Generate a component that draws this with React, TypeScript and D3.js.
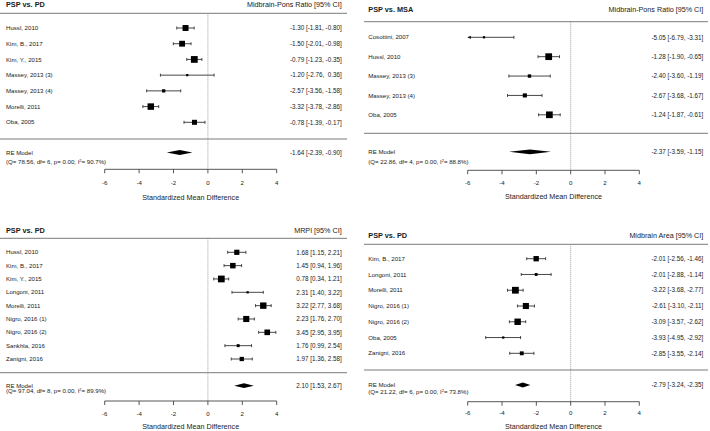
import React from "react";
import * as d3 from "d3";

// ---------- data ----------
const axisTicks = [-6, -4, -2, 0, 2, 4];
const axisTitle = "Standardized Mean Difference";
const summaryLabel = "RE Model";

// Panel A: PSP vs PD, Midbrain-Pons Ratio
const aGroup = "PSP vs. PD";
const aMeasure = "Midbrain-Pons Ratio [95% CI]";
const aStudies = ["Hussl, 2010", "Kim, B., 2017", "Kim, Y., 2015", "Massey, 2013 (3)", "Massey, 2013 (4)", "Morelli, 2011", "Oba, 2005"];
const aEst = [-1.3, -1.5, -0.79, -1.2, -2.57, -3.32, -0.78];
const aLower = [-1.81, -2.01, -1.23, -2.76, -3.56, -3.78, -1.39];
const aUpper = [-0.8, -0.98, -0.35, 0.36, -1.58, -2.86, -0.17];
const aSummary = [-1.64, -2.39, -0.9];
const aHet = [78.56, 6, 0.0, 90.7];

// Panel B: PSP vs MSA, Midbrain-Pons Ratio
const bGroup = "PSP vs. MSA";
const bMeasure = "Midbrain-Pons Ratio [95% CI]";
const bStudies = ["Cosottini, 2007", "Hussl, 2010", "Massey, 2013 (3)", "Massey, 2013 (4)", "Oba, 2005"];
const bEst = [-5.05, -1.28, -2.4, -2.67, -1.24];
const bLower = [-6.79, -1.9, -3.6, -3.68, -1.87];
const bUpper = [-3.31, -0.65, -1.19, -1.67, -0.61];
const bSummary = [-2.37, -3.59, -1.15];
const bHet = [22.86, 4, 0.0, 88.8];

// Panel C: PSP vs PD, MRPI
const cGroup = "PSP vs. PD";
const cMeasure = "MRPI [95% CI]";
const cStudies = ["Hussl, 2010", "Kim, B., 2017", "Kim, Y., 2015", "Longoni, 2011", "Morelli, 2011", "Nigro, 2016 (1)", "Nigro, 2016 (2)", "Sankhla, 2016", "Zanigni, 2016"];
const cEst = [1.68, 1.45, 0.78, 2.31, 3.22, 2.23, 3.45, 1.76, 1.97];
const cLower = [1.15, 0.94, 0.34, 1.4, 2.77, 1.76, 2.95, 0.99, 1.36];
const cUpper = [2.21, 1.96, 1.21, 3.22, 3.68, 2.7, 3.95, 2.54, 2.58];
const cSummary = [2.1, 1.53, 2.67];
const cHet = [97.04, 8, 0.0, 89.9];

// Panel D: PSP vs PD, Midbrain Area
const dGroup = "PSP vs. PD";
const dMeasure = "Midbrain Area [95% CI]";
const dStudies = ["Kim, B., 2017", "Longoni, 2011", "Morelli, 2011", "Nigro, 2016 (1)", "Nigro, 2016 (2)", "Oba, 2005", "Zanigni, 2016"];
const dEst = [-2.01, -2.01, -3.22, -2.61, -3.09, -3.93, -2.85];
const dLower = [-2.56, -2.88, -3.68, -3.1, -3.57, -4.95, -3.55];
const dUpper = [-1.46, -1.14, -2.77, -2.11, -2.62, -2.92, -2.14];
const dSummary = [-2.79, -3.24, -2.35];
const dHet = [21.22, 6, 0.0, 73.8];

// ---------- layout ----------
const FONT = "'Liberation Sans', Arial, Helvetica, sans-serif";
const TEXT = "#1a1a1a";
const BASE = 4.5;

const layoutLeft = { labelX: 6, lineX0: 0, lineX1: 347, textRight: 341.7, x0: 104.7, x1: 276.7 };
const layoutRight = { labelX: 368.3, lineX0: 364, lineX1: 708, textRight: 703.3, x0: 467.7, x1: 639.3 };

const layoutA = { ...layoutLeft, headerY: 4.9, headerLineY: 13.3, rowTop: 28, rowBottom: 122.3, lowerLineY: 139, reY: 152.5, qY: 161.7, axisY: 169.3, tickLabelY: 182.7, titleY: 197.3 };
const layoutB = { ...layoutRight, headerY: 9.3, headerLineY: 21.7, rowTop: 37.3, rowBottom: 114.8, lowerLineY: 133.3, reY: 151.8, qY: 161.7, axisY: 170.3, tickLabelY: 182.7, titleY: 196.7 };
const layoutC = { ...layoutLeft, headerY: 230.7, headerLineY: 238.3, rowTop: 252.3, rowBottom: 359, lowerLineY: 372.7, reY: 385.7, qY: 391.3, axisY: 401, tickLabelY: 414.3, titleY: 426.6 };
const layoutD = { ...layoutRight, headerY: 235, headerLineY: 244.3, rowTop: 258.7, rowBottom: 353.3, lowerLineY: 370, reY: 385, qY: 391.8, axisY: 401.7, tickLabelY: 413.3, titleY: 426.6 };

const panels = [
  { group: aGroup, measure: aMeasure, studies: aStudies, est: aEst, lower: aLower, upper: aUpper, summary: aSummary, het: aHet, L: layoutA },
  { group: bGroup, measure: bMeasure, studies: bStudies, est: bEst, lower: bLower, upper: bUpper, summary: bSummary, het: bHet, L: layoutB },
  { group: cGroup, measure: cMeasure, studies: cStudies, est: cEst, lower: cLower, upper: cUpper, summary: cSummary, het: cHet, L: layoutC },
  { group: dGroup, measure: dMeasure, studies: dStudies, est: dEst, lower: dLower, upper: dUpper, summary: dSummary, het: dHet, L: layoutD },
];

const f2 = (v: number) => v.toFixed(2);

function padCol(vals: number[]) {
  const s = vals.map(f2);
  const w = d3.max(s, (d) => d.length) as number;
  return s.map((d) => d.padStart(w, " "));
}

function Panel({ p }: { p: any }) {
  const L = p.L;
  const dom = [axisTicks[0], axisTicks[axisTicks.length - 1]];
  const x = d3.scaleLinear().domain(dom).range([L.x0, L.x1]);
  const y = d3.scalePoint<string>().domain(p.studies).range([L.rowTop, L.rowBottom]).padding(0);
  const inv = p.lower.map((lo: number, i: number) => 1 / (p.upper[i] - lo));
  const ext = d3.extent(inv) as [number, number];
  const size = d3.scaleLinear().domain(ext).range([0.5 * BASE, 1.5 * BASE]);

  const allEst = [...p.est, p.summary[0]];
  const allLo = [...p.lower, p.summary[1]];
  const allUp = [...p.upper, p.summary[2]];
  const sEst = padCol(allEst);
  const sLo = padCol(allLo);
  const sUp = padCol(allUp);
  const ann = allEst.map((_: number, i: number) => `${sEst[i]} [${sLo[i]}, ${sUp[i]}]`);
  const n = p.studies.length;

  const cap = 1.5;
  const dh = 2.4;
  const ds = p.summary;
  const diamond = `M${x(ds[1])},${L.reY} L${x(ds[0])},${L.reY - dh} L${x(ds[2])},${L.reY} L${x(ds[0])},${L.reY + dh} Z`;

  const tStyle: any = { fontFamily: FONT, fill: TEXT, whiteSpace: "pre" };

  return (
    <g>
      {/* header */}
      <text x={L.labelX} y={L.headerY} dy="0.35em" fontSize={7.3} fontWeight="bold" style={tStyle}>{p.group}</text>
      <text x={L.textRight} y={L.headerY} dy="0.35em" fontSize={7.2} textAnchor="end" style={tStyle}>{p.measure}</text>
      <line x1={L.lineX0} x2={L.lineX1} y1={L.headerLineY} y2={L.headerLineY} stroke="#7a7a7a" strokeWidth={1} />
      <line x1={L.lineX0} x2={L.lineX1} y1={L.lowerLineY} y2={L.lowerLineY} stroke="#7a7a7a" strokeWidth={1} />
      {/* reference line */}
      <line x1={x(0)} x2={x(0)} y1={L.headerLineY} y2={L.axisY} stroke="#888" strokeWidth={0.8} strokeDasharray="1,1" />
      {/* studies */}
      {p.studies.map((s: string, i: number) => {
        const yy = y(s) as number;
        const lo = p.lower[i];
        const up = p.upper[i];
        const loC = Math.max(lo, dom[0]);
        const upC = Math.min(up, dom[1]);
        const sz = size(inv[i]);
        return (
          <g key={s}>
            <text x={L.labelX} y={yy} dy="0.35em" fontSize={6.1} style={tStyle}>{s}</text>
            <text x={L.textRight} y={yy} dy="0.35em" fontSize={6.3} textAnchor="end" style={tStyle}>{ann[i]}</text>
            <line x1={x(loC)} x2={x(upC)} y1={yy} y2={yy} stroke="#333" strokeWidth={0.9} />
            {lo >= dom[0] ? (
              <line x1={x(lo)} x2={x(lo)} y1={yy - cap} y2={yy + cap} stroke="#333" strokeWidth={0.9} />
            ) : (
              <path d={`M${x(dom[0])},${yy} L${x(dom[0]) + 3.2},${yy - 1.6} L${x(dom[0]) + 3.2},${yy + 1.6} Z`} fill="#111" />
            )}
            {up <= dom[1] ? (
              <line x1={x(up)} x2={x(up)} y1={yy - cap} y2={yy + cap} stroke="#333" strokeWidth={0.9} />
            ) : (
              <path d={`M${x(dom[1])},${yy} L${x(dom[1]) - 3.2},${yy - 1.6} L${x(dom[1]) - 3.2},${yy + 1.6} Z`} fill="#111" />
            )}
            <rect x={x(p.est[i]) - sz / 2} y={yy - sz / 2} width={sz} height={sz} fill="#000" />
          </g>
        );
      })}
      {/* summary */}
      <text x={L.labelX} y={L.reY} dy="0.35em" fontSize={6.1} style={tStyle}>{summaryLabel}</text>
      <text x={L.labelX} y={L.qY} dy="0.35em" fontSize={6.1} style={tStyle}>
        {`(Q= ${f2(p.het[0])}, df= ${p.het[1]}, p= ${f2(p.het[2])}, I`}
        <tspan fontSize={4} dy="-2.2">2</tspan>
        <tspan dy="2.2">{`= ${p.het[3].toFixed(1)}%)`}</tspan>
      </text>
      <text x={L.textRight} y={L.reY} dy="0.35em" fontSize={6.3} textAnchor="end" style={tStyle}>{ann[n]}</text>
      <path d={diamond} fill="#000" />
      {/* axis */}
      <line x1={x(dom[0])} x2={x(dom[1])} y1={L.axisY} y2={L.axisY} stroke="#444" strokeWidth={0.9} />
      {axisTicks.map((t) => (
        <g key={t}>
          <line x1={x(t)} x2={x(t)} y1={L.axisY} y2={L.axisY + 4} stroke="#444" strokeWidth={0.9} />
          <text x={x(t)} y={L.tickLabelY} dy="0.35em" fontSize={6.1} textAnchor="middle" style={tStyle}>{String(t)}</text>
        </g>
      ))}
      <text x={(L.x0 + L.x1) / 2} y={L.titleY} dy="0.35em" fontSize={7.2} textAnchor="middle" style={tStyle}>{axisTitle}</text>
    </g>
  );
}

export default function App() {
  return (
    <svg width={710} height={431} style={{ position: "fixed", left: 0, top: 0, background: "#fff" }}>
      <rect x={0} y={0} width={710} height={431} fill="#fff" />
      {panels.map((p, i) => (
        <Panel key={i} p={p} />
      ))}
    </svg>
  );
}
